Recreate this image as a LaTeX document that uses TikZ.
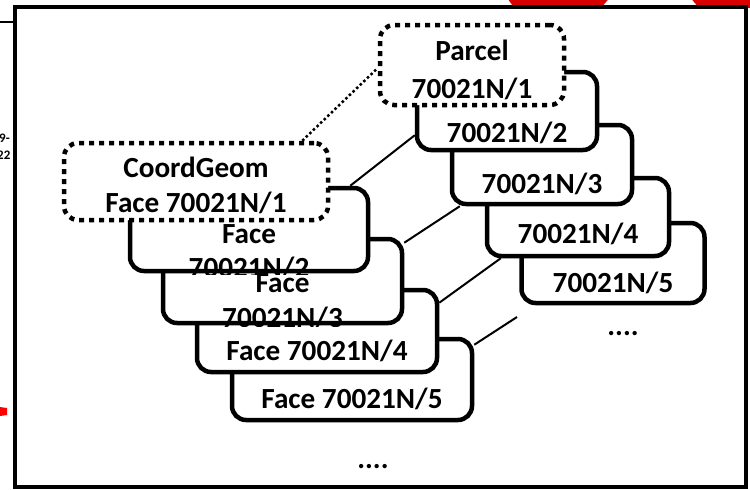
\documentclass[tikz,border=0pt]{standalone}
\usepackage{fontspec}
\setmainfont{Carlito}
\begin{document}
\begin{tikzpicture}[x=1pt,y=-1pt,
  sbox/.style={draw, line width=4.5pt, rounded corners=14pt, fill=white, inner sep=0pt, rectangle},
  dbox/.style={sbox, dash pattern=on 5pt off 5pt},
  lbl/.style={font=\bfseries\fontsize{29.2}{34}\selectfont, inner sep=0pt, anchor=base},
  conn/.style={line width=2pt},
  dconn/.style={line width=2.5pt, dash pattern=on 2.5pt off 2.5pt},
  frame/.style={line width=4pt},
  tiny/.style={font=\bfseries\fontsize{13}{13}\selectfont, inner sep=0pt}]
\useasboundingbox (0,0) rectangle (750,490);
% --- fragments of the surrounding slide ---
\begin{scope}
  \clip (0,0) rectangle (750,7);
  \fill[red!85!black] (505,-5) -- (612,-5) -- (600,9) -- (515,9) -- cycle;
  \fill[red!85!black] (688,-5) -- (750,-5) -- (750,9) -- (700,9) -- cycle;
\end{scope}
\coordinate (lfa) at (0,22);
\coordinate (lfb) at (14,22);
\draw[line width=1.5pt] (lfa) -- (lfb);
\begin{scope}
  \clip (0,120) rectangle (13,170);
  \node[tiny, anchor=west] (fr1) at (-1,138) {9-};
  \node[tiny, anchor=west] (fr2) at (-3,155) {22};
\end{scope}
\fill[red] (0,407) -- (7,408) -- (7,415) -- (0,416) -- cycle;
% --- frame ---
\draw[frame] (15,7) rectangle (746,487);
% --- parcel stack (back to front) ---
\node[sbox, minimum width=183pt, minimum height=80pt] (p5) at (613,263) {};
\node[lbl] (p5t) at (613,292) {70021N/5};
\node[sbox, minimum width=182pt, minimum height=78pt] (p4) at (578,217) {};
\node[lbl] (p4t) at (578,243) {70021N/4};
\node[sbox, minimum width=180pt, minimum height=79pt] (p3) at (542,164.5) {};
\node[lbl] (p3t) at (542,193) {70021N/3};
\node[sbox, minimum width=180pt, minimum height=78pt] (p2) at (507,111) {};
\node[lbl] (p2t) at (507,142) {70021N/2};
\node[dbox, minimum width=184pt, minimum height=80pt] (p1) at (472,65) {};
\node[lbl] (p1a) at (472,60) {Parcel};
\node[lbl] (p1b) at (472,98) {70021N/1};
\node[lbl] (pdots) at (623,335) {....};
% --- face stack (back to front) ---
\node[sbox, minimum width=240pt, minimum height=81pt] (f5) at (352,379.5) {};
\node[lbl] (f5t) at (352,408) {Face 70021N/5};
\node[sbox, minimum width=240pt, minimum height=82pt] (f4) at (317,331) {};
\node[lbl] (f4t) at (317,360) {Face 70021N/4};
\node[sbox, minimum width=239pt, minimum height=84pt] (f3) at (282.5,281) {};
\node[lbl] (f3a) at (282.5,292) {Face};
\begin{scope}
  \clip (150,300) rectangle (420,326);
  \node[lbl] (f3b) at (282.5,327) {70021N/3};
\end{scope}
\node[sbox, minimum width=238pt, minimum height=83pt] (f2) at (249,229.5) {};
\node[lbl] (f2a) at (249,243) {Face};
\begin{scope}
  \clip (120,250) rectangle (380,274);
  \node[lbl] (f2b) at (249,277) {70021N/2};
\end{scope}
\node[dbox, minimum width=264pt, minimum height=77pt] (cg) at (196,181.5) {};
\node[lbl] (cga) at (196,177) {CoordGeom};
\node[lbl] (cgb) at (196,212) {Face 70021N/1};
\node[lbl] (fdots) at (373,468) {....};
% --- connectors ---
\coordinate (freeend) at (517,317);
\draw[dconn] ([xshift=-28pt]cg.north east) -- ([yshift=-3pt]p1.west);
\draw[conn] ([xshift=-20pt]f2.north east) -- ([yshift=17pt]p2.south west);
\draw[conn] ([yshift=-6pt]f3.north east) -- ([xshift=10pt]p3.south west);
\draw[conn] ([yshift=-15pt]f4.north east) -- ([xshift=16pt]p4.south west);
\draw[conn] ([yshift=-8pt]f5.north east) -- (freeend);
\end{tikzpicture}
\end{document}
